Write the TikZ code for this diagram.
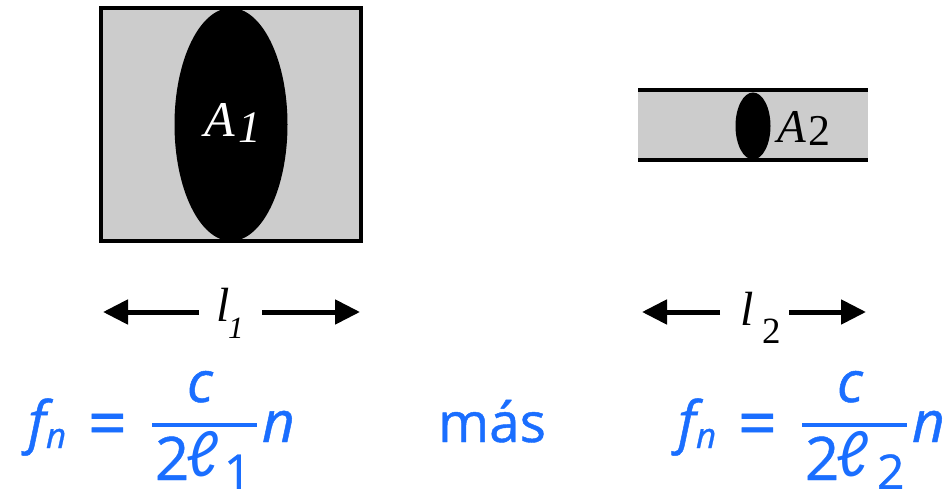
\documentclass[tikz,border=0pt]{standalone}
\usepackage{fontspec}
\setmainfont{Liberation Serif}
\newfontfamily\bluefont[FakeBold=0.8]{Open Sans}
\newfontfamily\ellfont{Carlito}
\usetikzlibrary{arrows.meta}
\definecolor{fillgray}{HTML}{CCCCCC}
\definecolor{eqblue}{RGB}{26,110,255}
\tikzset{
  txt/.style={inner sep=0pt, outer sep=0pt, anchor=base west},
  bigA/.style={txt, font=\fontsize{50}{50}\selectfont\itshape},
  subA/.style={txt, font=\fontsize{45}{45}\selectfont},
  ell/.style={txt, font=\fontsize{48}{48}\selectfont\itshape},
  ellsub/.style={txt, font=\fontsize{33}{33}\selectfont},
  dimarrow/.style={line width=5pt, -{Triangle[length=25pt,width=24pt]}},
  eqmain/.style={txt, text=eqblue, font=\fontsize{57}{57}\selectfont\bluefont},
  eqsign/.style={eqmain, font=\fontsize{68}{68}\selectfont\bluefont},
  eqdigit/.style={eqmain, font=\fontsize{60}{60}\selectfont\bluefont},
  eqit/.style={eqmain, font=\fontsize{57}{57}\selectfont\bluefont\itshape},
  eqsub/.style={txt, text=eqblue, font=\fontsize{48}{48}\selectfont\bluefont},
  eqsubit/.style={eqsub, font=\fontsize{35}{35}\selectfont\bluefont\itshape},
  eqell/.style={txt, text=eqblue, font=\fontsize{66}{66}\selectfont\ellfont\itshape},
  fracbar/.style={draw=eqblue, line width=4pt},
}
\begin{document}
\begin{tikzpicture}[x=1pt, y=-1pt]
\useasboundingbox (0,0) rectangle (951,489);

% ---- left body ----
\draw[line width=4pt, fill=fillgray] (101,8) rectangle (361,241);
\fill[black] (231,124.5) ellipse [x radius=56.5, y radius=116.5];
\node[bigA, text=white] (A1) at (204,137) {A};
\node[subA, text=white, font=\fontsize{45}{45}\selectfont\itshape] (A1s) at (238,143) {1};

% ---- right body ----
\fill[fillgray] (638,90.5) rectangle (868,160.5);
\draw[line width=4pt] (638,90.5) -- (868,90.5);
\draw[line width=4pt] (638,160.5) -- (868,160.5);
\fill[black] (753,126) ellipse [x radius=17.5, y radius=33.5];
\node[bigA, font=\fontsize{47}{47}\selectfont\itshape] (A2) at (777,143) {A};
\node[subA, font=\fontsize{44}{44}\selectfont] (A2s) at (808,146) {2};

% ---- length 1 ----
\node[ell] (l1) at (216,322) {l};
\node[ellsub, font=\fontsize{31}{31}\selectfont\itshape] (l1s) at (228,338) {1};
\coordinate (a1l) at (199,312);
\coordinate (a1lt) at (103,312);
\coordinate (a1r) at (262,312);
\coordinate (a1rt) at (360,312);
\draw[dimarrow] (a1l) -- (a1lt);
\draw[dimarrow] (a1r) -- (a1rt);

% ---- length 2 ----
\node[ell] (l2) at (740,325) {l};
\node[ellsub, font=\fontsize{37}{37}\selectfont] (l2s) at (762,343) {2};
\coordinate (a2l) at (720,312);
\coordinate (a2lt) at (642,312);
\coordinate (a2r) at (789,312);
\coordinate (a2rt) at (866,312);
\draw[dimarrow] (a2l) -- (a2lt);
\draw[dimarrow] (a2r) -- (a2rt);

% ---- left equation ----
\node[eqit] (f1) at (28,442) {f};
\node[eqsubit] (f1n) at (46,448) {n};
\node[eqsign] (eq1) at (88,447) {=};
\coordinate (b1l) at (152,424.5);
\coordinate (b1r) at (257,424.5);
\draw[fracbar] (b1l) -- (b1r);
\node[eqit] (c1) at (187,402) {c};
\node[eqdigit] (two1) at (155,480) {2};
\node[eqell] (ell1) at (186,476) {ℓ};
\node[eqsub] (ell1s) at (224,489) {1};
\node[eqit] (n1) at (262,442) {n};

% ---- más ----
\node[eqmain, font=\fontsize{55}{55}\selectfont\bluefont] (mas) at (438,442) {más};

% ---- right equation ----
\begin{scope}[xshift=650pt]
\node[eqit] (f2) at (28,442) {f};
\node[eqsubit] (f2n) at (46,448) {n};
\node[eqsign] (eq2) at (88,447) {=};
\coordinate (b2l) at (152,424.5);
\coordinate (b2r) at (257,424.5);
\draw[fracbar] (b2l) -- (b2r);
\node[eqit] (c2) at (187,402) {c};
\node[eqdigit] (two2) at (155,480) {2};
\node[eqell] (ell2) at (186,476) {ℓ};
\node[eqsub] (ell2s) at (227,489) {2};
\node[eqit] (n2) at (262,442) {n};
\end{scope}
\end{tikzpicture}
\end{document}
